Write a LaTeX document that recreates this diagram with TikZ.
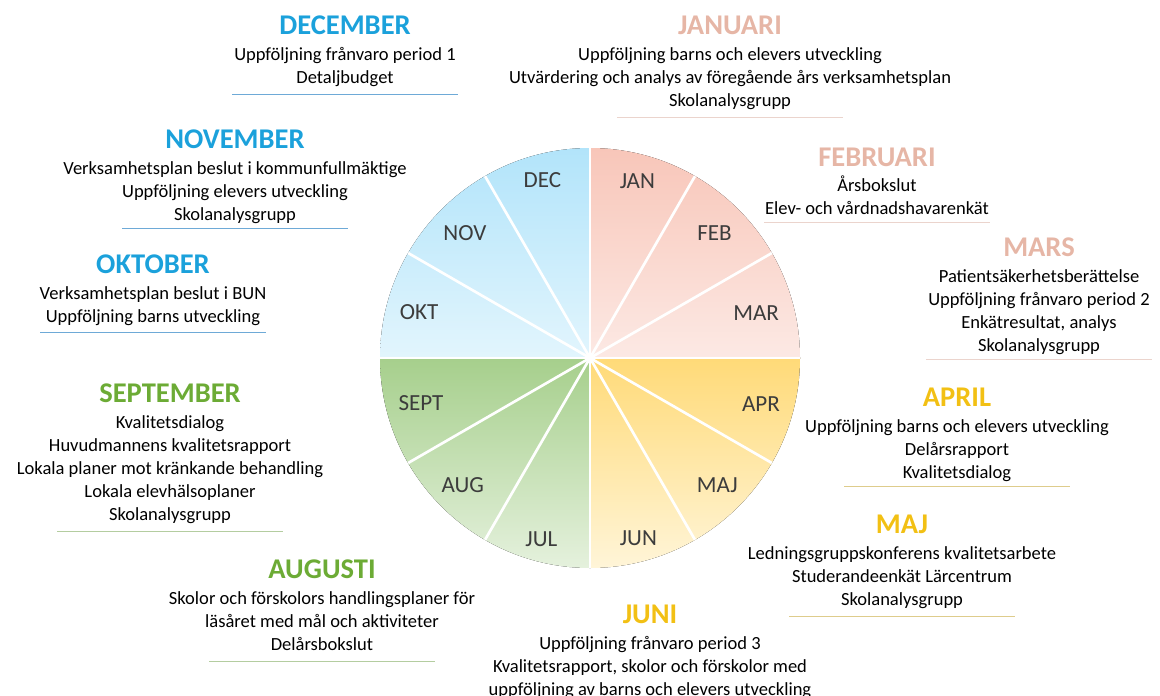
\documentclass[tikz,border=0pt]{standalone}
\usepackage{fontspec}
\setmainfont{Carlito}
\usetikzlibrary{positioning}

\definecolor{winterblue}{RGB}{27,161,219}
\definecolor{winterrule}{RGB}{110,170,215}
\definecolor{springpink}{RGB}{230,182,166}
\definecolor{springrule}{RGB}{235,212,205}
\definecolor{summergold}{RGB}{242,192,20}
\definecolor{summerrule}{RGB}{222,204,140}
\definecolor{autumngreen}{RGB}{108,171,53}
\definecolor{autumnrule}{RGB}{180,205,160}
\definecolor{wheeltext}{RGB}{60,60,60}

\tikzset{
	head/.style={inner sep=0pt, font=\fontsize{21.4}{25}\selectfont\bfseries},
	body/.style={inner sep=0pt, align=center, below=9.6pt of #1,
		font=\fontsize{13.9}{17.25}\selectfont,
		execute at begin node=\strut, execute at end node=\strut},
	monthrule/.style={line width=0.8pt, #1},
	spoke/.style={white, line width=2pt},
	wheel/.style={inner sep=0pt, wheeltext, font=\fontsize{17.3}{20}\selectfont}
}

\begin{document}
\begin{tikzpicture}[x=0.75pt, y=-0.75pt]
	\useasboundingbox (0,0) rectangle (1160,696);
	\coordinate (hub) at (590,358);

	% the wheel (radius 210px = 157.5pt)
	\fill[top color={rgb,255:red,248;green,198;blue,185}, bottom color={rgb,255:red,252;green,233;blue,228}]
	(hub) -- ++(0,-210) arc[start angle=90, end angle=0, radius=157.5pt] -- cycle;
	\fill[top color={rgb,255:red,255;green,218;blue,120}, bottom color={rgb,255:red,255;green,245;blue,216}]
	(hub) -- ++(210,0) arc[start angle=0, end angle=-90, radius=157.5pt] -- cycle;
	\fill[top color={rgb,255:red,166;green,207;blue,140}, bottom color={rgb,255:red,229;green,241;blue,221}]
	(hub) -- ++(0,210) arc[start angle=-90, end angle=-180, radius=157.5pt] -- cycle;
	\fill[top color={rgb,255:red,178;green,228;blue,250}, bottom color={rgb,255:red,226;green,245;blue,253}]
	(hub) -- ++(-210,0) arc[start angle=180, end angle=90, radius=157.5pt] -- cycle;
	\foreach \a in {0,30,...,330}
		\draw[spoke] (hub) -- ++(\a:210);
	\foreach \m/\r [count=\i, evaluate=\i as \ang using -105+30*\i] in
		{JAN/183, FEB/176, MAR/172, APR/177, MAJ/180, JUN/187,
		 JUL/188, AUG/180, SEPT/175, OKT/177, NOV/177, DEC/184}
		\node[wheel] (wheel-\m) at ([shift={(\ang:\r)}]hub) {\m};

	% winter
	\node[head, winterblue] (dechead) at (345,25) {DECEMBER};
	\node[body=dechead] (decbody) {Uppföljning frånvaro period 1\\Detaljbudget};
	\draw[monthrule=winterrule] ([yshift=-2.7pt]decbody.south) ++(-113,0) -- ++(226,0);

	\node[head, winterblue] (novhead) at (235,139) {NOVEMBER};
	\node[body=novhead] (novbody) {Verksamhetsplan beslut i kommunfullmäktige\\Uppföljning elevers utveckling\\Skolanalysgrupp};
	\draw[monthrule=winterrule] ([yshift=-0.5pt]novbody.south) ++(-113,0) -- ++(226,0);

	\node[head, winterblue] (okthead) at (153,264) {OKTOBER};
	\node[body=okthead] (oktbody) {Verksamhetsplan beslut i BUN\\Uppföljning barns utveckling};
	\draw[monthrule=winterrule] ([yshift=-2pt]oktbody.south) ++(-113,0) -- ++(226,0);

	% autumn
	\node[head, autumngreen] (sephead) at (170,393) {SEPTEMBER};
	\node[body=sephead] (sepbody) {Kvalitetsdialog\\Huvudmannens kvalitetsrapport\\Lokala planer mot kränkande behandling\\Lokala elevhälsoplaner\\Skolanalysgrupp};
	\draw[monthrule=autumnrule] ([yshift=-2.7pt]sepbody.south) ++(-113,0) -- ++(226,0);

	\node[head, autumngreen] (aughead) at (322,569) {AUGUSTI};
	\node[body=aughead] (augbody) {Skolor och förskolors handlingsplaner för\\läsåret med mål och aktiviteter\\Delårsbokslut};
	\draw[monthrule=autumnrule] ([yshift=-2.7pt]augbody.south) ++(-113,0) -- ++(226,0);

	% summer
	\node[head, summergold] (junhead) at (650,614) {JUNI};
	\node[body=junhead] (junbody) {Uppföljning frånvaro period 3\\Kvalitetsrapport, skolor och förskolor med\\uppföljning av barns och elevers utveckling};

	\node[head, summergold] (majhead) at (902,524) {MAJ};
	\node[body=majhead] (majbody) {Ledningsgruppskonferens kvalitetsarbete\\Studerandeenkät Lärcentrum\\Skolanalysgrupp};
	\draw[monthrule=summerrule] ([yshift=-2.7pt]majbody.south) ++(-113,0) -- ++(226,0);

	\node[head, summergold] (aprhead) at (957,397) {APRIL};
	\node[body=aprhead] (aprbody) {Uppföljning barns och elevers utveckling\\Delårsrapport\\Kvalitetsdialog};
	\draw[monthrule=summerrule] ([yshift=-0.5pt]aprbody.south) ++(-113,0) -- ++(226,0);

	% spring
	\node[head, springpink] (marhead) at (1039,247) {MARS};
	\node[body=marhead] (marbody) {Patientsäkerhetsberättelse\\Uppföljning frånvaro period 2\\Enkätresultat, analys\\Skolanalysgrupp};
	\draw[monthrule=springrule] ([yshift=-0.7pt]marbody.south) ++(-113,0) -- ++(226,0);

	\node[head, springpink] (febhead) at (877,157) {FEBRUARI};
	\node[body=febhead, yshift=3pt] (febbody) {Årsbokslut\\Elev- och vårdnadshavarenkät};
	\draw[monthrule=springrule] ([yshift=-0.5pt]febbody.south) ++(-113,0) -- ++(226,0);

	\node[head, springpink] (janhead) at (730,25) {JANUARI};
	\node[body=janhead] (janbody) {Uppföljning barns och elevers utveckling\\Utvärdering och analys av föregående års verksamhetsplan\\Skolanalysgrupp};
	\draw[monthrule=springrule] ([yshift=-2.7pt]janbody.south) ++(-113,0) -- ++(226,0);
\end{tikzpicture}
\end{document}
